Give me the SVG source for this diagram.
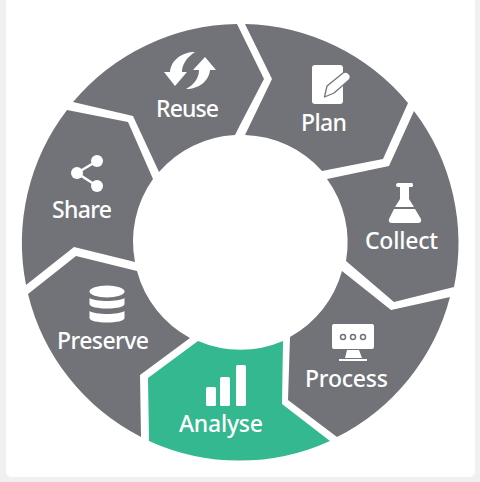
<svg xmlns="http://www.w3.org/2000/svg" width="480" height="482" viewBox="0 0 480 482">
<style>
.s{fill:#717379}
.a{fill:#33b88f}
.i{fill:#fff}
.t{fill:#fff;font-family:"Noto Sans","Open Sans",sans-serif;font-size:23px;font-weight:500}
.g{fill:none;stroke:#717379}
</style>
<rect width="480" height="482" fill="#f1f0f1"/>
<rect x="6" y="-10" width="469" height="487" rx="5" fill="#fff"/>
<g id="connectors"/>
<g id="reuse">
<path class="s" d="M73 102A218.500 218.500 0 0 1 237 24L264 79L240 125L235 135A107.500 107.500 0 0 0 159 172L133 116Z"/>
<path class="i" d="M195 52C182 52 171 60 170 72H164L175 86L187 72H182C182 65 186 58 195 52Z"/>
<path class="i" d="M186 89C199 89 209 81 210 70H216L205 57L193 70H199C199 78 194 85 186 89Z"/>
<text class="t" x="156" y="117" textLength="63">Reuse</text>
</g>
<g id="plan">
<path class="s" d="M245 24A218.500 218.500 0 0 1 408 103L383 159L322 171A107.500 107.500 0 0 0 245 135L272 79Z"/>
<rect class="i" x="312" y="65" width="31" height="39" rx="3"/>
<path class="i" stroke="#717379" stroke-width="1.300" stroke-linejoin="round" d="M324.500 97L327 86L343 73Q346 71 348 73L350 75Q351 78 349 80L334 93Z"/>
<text class="t" x="301" y="131" textLength="46">Plan</text>
</g>
<g id="collect">
<path class="s" d="M414 111A218.500 218.500 0 0 1 454 287L394 302L346 261A107.500 107.500 0 0 0 327 179L389 166Z"/>
<path class="i" d="M398 183H412Q413 183 413 185T412 187H409V199L414 207H395L400 199V187H398Q396 187 396 185T398 183ZM394 209H415L421 219Q422 223 418 223H392Q388 223 389 219Z"/>
<text class="t" x="365" y="249" textLength="73">Collect</text>
</g>
<g id="process">
<path class="s" d="M450 297A218.500 218.500 0 0 1 337 437L288 400L290 337A107.500 107.500 0 0 0 342 271L391 310Z"/>
<rect class="i" x="332" y="324" width="42" height="25" rx="2"/>
<circle class="g" cx="343" cy="337" r="2.500" stroke-width="1.500"/>
<circle class="g" cx="353" cy="337" r="2.500" stroke-width="1.500"/>
<circle class="g" cx="363" cy="337" r="2.500" stroke-width="1.500"/>
<path class="i" d="M347 350H359L362 358H345ZM339 359H367V361H339Z"/>
<text class="t" x="305" y="387" textLength="83">Process</text>
</g>
<g id="analyse">
<path class="a" d="M330 441A218.500 218.500 0 0 1 149 441L148 378L198 341A107.500 107.500 0 0 0 283 341L282 404Z"/>
<rect class="i" x="206" y="387" width="10" height="19" rx="1.500"/>
<rect class="i" x="220" y="377" width="10" height="29" rx="1.500"/>
<rect class="i" x="236" y="365" width="10" height="41" rx="1.500"/>
<text class="t" x="179" y="432" textLength="84">Analyse</text>
</g>
<g id="preserve">
<path class="s" d="M141 437A218.500 218.500 0 0 1 28 294L76 256L137 271A107.500 107.500 0 0 0 190 338L140 375Z"/>
<ellipse class="i" cx="107" cy="291.500" rx="17.500" ry="6"/>
<path class="i" d="M89.500 298C95 302 119 302 124.500 298V304C124.500 310 89.500 310 89.500 304ZM89.500 311C95 315 119 315 124.500 311V318C124.500 324 89.500 324 89.500 318Z"/>
<text class="t" x="57" y="349" textLength="92">Preserve</text>
</g>
<g id="share">
<path class="s" d="M26 285A218.500 218.500 0 0 1 67 110L128 122L153 179A107.500 107.500 0 0 0 135 262L74 247Z"/>
<path fill="none" stroke="#fff" stroke-width="2.500" d="M97 161L77 173L97 186"/>
<circle class="i" cx="97" cy="161" r="6"/>
<circle class="i" cx="77" cy="173" r="6"/>
<circle class="i" cx="97" cy="186" r="6"/>
<text class="t" x="52" y="218" textLength="60">Share</text>
</g>
</svg>
